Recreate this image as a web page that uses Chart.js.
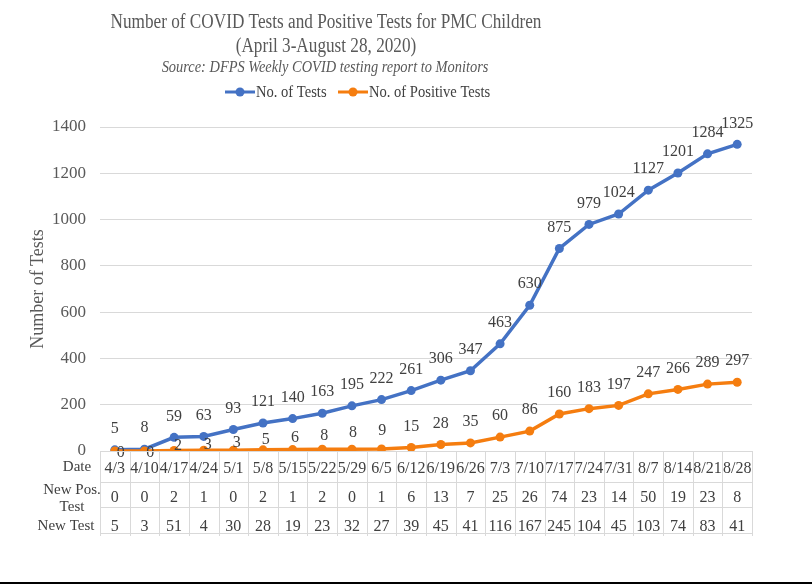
<!DOCTYPE html>
<html>
<head>
<meta charset="utf-8">
<script src="https://cdn.jsdelivr.net/npm/chart.js@4/dist/chart.umd.min.js"></script>
<style>
  body { margin: 0; background: #fff; }
  #wrap { width: 812px; height: 585px; }
</style>
</head>
<body>
<div id="wrap"><canvas id="covidChart" width="812" height="585"></canvas></div>
<script>
const weekDates = ['4/3', '4/10', '4/17', '4/24', '5/1', '5/8', '5/15', '5/22', '5/29', '6/5', '6/12',
    '6/19', '6/26', '7/3', '7/10', '7/17', '7/24', '7/31', '8/7', '8/14', '8/21', '8/28'];
const totalTests = [5, 8, 59, 63, 93, 121, 140, 163, 195, 222, 261, 306, 347, 463, 630, 875, 979, 1024, 1127, 1201, 1284, 1325];
const positiveTests = [0, 0, 2, 3, 3, 5, 6, 8, 8, 9, 15, 28, 35, 60, 86, 160, 183, 197, 247, 266, 289, 297];
const newPositive = [0, 0, 2, 1, 0, 2, 1, 2, 0, 1, 6, 13, 7, 25, 26, 74, 23, 14, 50, 19, 23, 8];
const newTests = [5, 3, 51, 4, 30, 28, 19, 23, 32, 27, 39, 45, 41, 116, 167, 245, 104, 45, 103, 74, 83, 41];
const yMin = 0, yMax = 1400, yStep = 200;

const BLUE = '#4472c4';
const ORANGE = '#f57d0f';
const TEXT = '#404040';
const GRID = '#d9d9d9';
const SERIF = '"Liberation Serif", "Times New Roman", serif';

// the source picture is a little narrower than tall, so header text gets squeezed
function squeezedText(ctx, text, x, y, sx) {
    ctx.save();
    ctx.translate(x, y);
    ctx.scale(sx, 1);
    ctx.fillText(text, 0, 0);
    ctx.restore();
}

// value labels, orange ones squeezed in where the blue line is close
function drawValueLabels(chart) {
    const ctx = chart.ctx;
    const blue = chart.getDatasetMeta(0).data;
    const orange = chart.getDatasetMeta(1).data;
    ctx.save();
    ctx.font = '16px ' + SERIF;
    ctx.fillStyle = TEXT;
    ctx.textAlign = 'center';
    ctx.textBaseline = 'middle';
    blue.forEach((pt, i) => {
        ctx.fillText(String(totalTests[i]), pt.x, pt.y - 21);
    });
    orange.forEach((pt, i) => {
        const gap = pt.y - blue[i].y;
        const off = Math.min(21, gap < 13 ? -3 + gap * 0.65 : 5 + (gap - 13) * 0.37);
        const dx = (21 - off) * 0.25;
        ctx.fillText(String(positiveTests[i]), pt.x + dx, pt.y - off);
    });
    ctx.restore();
}

function drawDataTable(chart) {
    const ctx = chart.ctx;
    const area = chart.chartArea;
    const xs = chart.scales.x;
    const step = (area.right - area.left) / weekDates.length;
    const rowLines = [area.bottom, area.bottom + 31, area.bottom + 56, area.bottom + 82];
    ctx.save();
    ctx.strokeStyle = GRID;
    ctx.lineWidth = 1;
    rowLines.forEach(y => {
        ctx.beginPath();
        ctx.moveTo(area.left, Math.round(y) + 0.5);
        ctx.lineTo(area.right, Math.round(y) + 0.5);
        ctx.stroke();
    });
    for (let i = 0; i <= weekDates.length; i++) {
        const x = Math.round(area.left + i * step) + 0.5;
        ctx.beginPath();
        ctx.moveTo(x, area.bottom);
        ctx.lineTo(x, area.bottom + 85);
        ctx.stroke();
    }
    ctx.fillStyle = TEXT;
    ctx.textBaseline = 'middle';
    ctx.textAlign = 'center';
    ctx.font = '16px ' + SERIF;
    weekDates.forEach((d, i) => {
        const x = xs.getPixelForValue(i);
        ctx.fillText(d, x, area.bottom + 18);
        ctx.fillText(String(newPositive[i]), x, area.bottom + 47);
        ctx.fillText(String(newTests[i]), x, area.bottom + 76);
    });
    ctx.font = '15px ' + SERIF;
    ctx.fillText('Date', 77, area.bottom + 16);
    ctx.fillText('New Pos.', 72, area.bottom + 39);
    ctx.fillText('Test', 72, area.bottom + 56);
    ctx.fillText('New Test', 66, area.bottom + 75);
    ctx.restore();
}

function drawHeader(chart) {
    const ctx = chart.ctx;
    ctx.save();
    ctx.textAlign = 'center';
    ctx.textBaseline = 'middle';
    ctx.fillStyle = '#595959';
    ctx.font = '20px ' + SERIF;
    squeezedText(ctx, 'Number of COVID Tests and Positive Tests for PMC Children', 326, 23, 0.86);
    squeezedText(ctx, '(April 3-August 28, 2020)', 326, 47, 0.86);
    ctx.font = 'italic 16px ' + SERIF;
    squeezedText(ctx, 'Source: DFPS Weekly COVID testing report to Monitors', 325, 68, 0.9);

    // legend: line with marker, then text
    const items = [
        { label: chart.data.datasets[0].label, color: BLUE, x: 225 },
        { label: chart.data.datasets[1].label, color: ORANGE, x: 338 }
    ];
    ctx.font = '16px ' + SERIF;
    ctx.textAlign = 'left';
    items.forEach(it => {
        ctx.strokeStyle = it.color;
        ctx.fillStyle = it.color;
        ctx.lineWidth = 3;
        ctx.beginPath();
        ctx.moveTo(it.x, 92);
        ctx.lineTo(it.x + 30, 92);
        ctx.stroke();
        ctx.beginPath();
        ctx.arc(it.x + 15, 92, 4.5, 0, Math.PI * 2);
        ctx.fill();
        ctx.fillStyle = TEXT;
        squeezedText(ctx, it.label, it.x + 31, 93, 0.91);
    });

    // frame line at the bottom of the picture
    ctx.fillStyle = '#000';
    ctx.fillRect(0, 582, chart.width, 2);
    ctx.restore();
}

const extrasPlugin = {
    id: 'extras',
    afterDatasetsDraw(chart) {
        drawValueLabels(chart);
    },
    afterDraw(chart) {
        drawDataTable(chart);
        drawHeader(chart);
    }
};

const ctx = document.getElementById('covidChart').getContext('2d');
new Chart(ctx, {
    type: 'line',
    data: {
        labels: weekDates,
        datasets: [{
            label: 'No. of Tests',
            data: totalTests,
            borderColor: BLUE,
            backgroundColor: BLUE,
            borderWidth: 3.5,
            pointRadius: 4.5,
            pointBackgroundColor: BLUE,
            pointBorderWidth: 0,
            tension: 0,
            order: 1
        }, {
            label: 'No. of Positive Tests',
            data: positiveTests,
            borderColor: ORANGE,
            backgroundColor: ORANGE,
            borderWidth: 3.5,
            pointRadius: 4.5,
            pointBackgroundColor: ORANGE,
            pointBorderWidth: 0,
            tension: 0,
            order: 0
        }]
    },
    options: {
        responsive: false,
        animation: false,
        layout: {
            padding: { top: 127, right: 60, bottom: 134, left: 0 }
        },
        plugins: {
            legend: { display: false },
            title: { display: false },
            tooltip: { enabled: false }
        },
        scales: {
            x: {
                display: false,
                offset: true
            },
            y: {
                min: yMin,
                max: yMax,
                afterFit(scale) {
                    scale.width = 100;
                },
                ticks: {
                    stepSize: yStep,
                    padding: 14,
                    color: '#595959',
                    font: { family: SERIF, size: 17 },
                    callback: (v) => String(v)
                },
                grid: {
                    color: GRID,
                    drawTicks: false
                },
                border: { display: false },
                title: {
                    display: true,
                    text: 'Number of Tests',
                    color: '#595959',
                    padding: 27,
                    font: { family: SERIF, size: 18 }
                }
            }
        }
    },
    plugins: [extrasPlugin]
});
</script>
</body>
</html>
